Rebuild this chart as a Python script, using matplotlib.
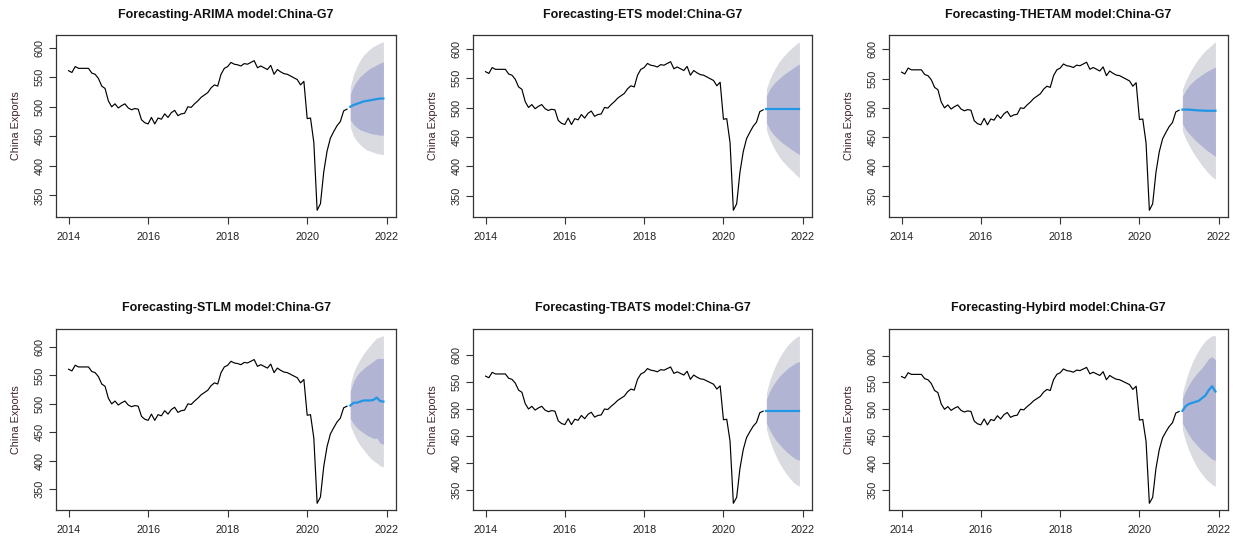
import numpy as np
import matplotlib
matplotlib.use("Agg")
import matplotlib.pyplot as plt

plt.rcParams['font.family'] = ['Liberation Sans', 'DejaVu Sans']

# Monthly China exports to G7, Jan 2014 - Jan 2021
exports = [
    561, 558, 568, 565, 565, 565, 565, 557, 555, 548, 535, 531,   # 2014
    510, 500, 505, 498, 502, 505, 498, 495, 497, 496, 478, 473,   # 2015
    471, 482, 471, 481, 479, 488, 482, 490, 494, 485, 488, 489,   # 2016
    500, 499, 505, 510, 516, 520, 524, 532, 537, 535, 555, 565,   # 2017
    568, 575, 572, 571, 569, 573, 572, 575, 578, 566, 569, 566,   # 2018
    563, 570, 555, 563, 559, 556, 555, 552, 549, 546, 537, 543,   # 2019
    480, 481, 440, 325, 336, 390, 425, 447, 458, 468, 475, 493,   # 2020
    496,                                                          # 2021
]
start_year = 2014
horizon_months = 11  # Feb - Dec 2021

models = ["ARIMA", "ETS", "THETAM", "STLM", "TBATS", "Hybird"]

# point forecasts
mean_arima = [500, 503, 505, 507, 509, 510, 511, 512, 513, 514, 514]
mean_ets = [497, 497, 497, 497, 497, 497, 497, 497, 497, 497, 497]
mean_thetam = [497, 497, 497, 496.5, 496, 495.5, 495.5, 495, 495, 495, 495]
mean_stlm = [497, 502, 502, 504, 506, 506, 506, 507, 511, 505, 504]
mean_tbats = [497, 497, 497, 497, 497, 497, 497, 497, 497, 497, 497]
mean_hybrid = [497, 506, 510, 512, 514, 516, 521, 526, 536, 543, 533]

# 80% prediction intervals
lo80_arima = [478, 470, 465, 461, 459, 457, 455, 454, 453, 452, 452]
hi80_arima = [522, 535, 544, 551, 556, 561, 565, 568, 571, 574, 576]
lo80_ets = [474, 463, 455, 449, 444, 439, 435, 431, 427, 423, 420]
hi80_ets = [520, 531, 539, 545, 550, 555, 559, 563, 567, 571, 574]
lo80_thetam = [473, 463, 456, 450, 444, 439, 434, 429, 425, 421, 417]
hi80_thetam = [520, 530, 538, 544, 549, 553, 557, 561, 564, 567, 570]
lo80_stlm = [474, 465, 458, 453, 449, 445, 442, 439, 440, 431, 429]
hi80_stlm = [522, 540, 550, 557, 562, 567, 571, 575, 580, 580, 580]
lo80_tbats = [474, 461, 450, 441, 434, 427, 421, 416, 411, 407, 405]
hi80_tbats = [518, 533, 544, 553, 561, 567, 573, 578, 582, 586, 588]
lo80_hybrid = [474, 463, 452, 443, 436, 429, 423, 418, 412, 407, 405]
hi80_hybrid = [520, 535, 546, 556, 564, 571, 578, 586, 595, 598, 592]

# 95% prediction intervals
lo95_arima = [466, 450, 442, 436, 431, 427, 425, 423, 421, 420, 419]
hi95_arima = [534, 555, 568, 579, 587, 593, 598, 602, 605, 608, 610]
lo95_ets = [462, 446, 434, 424, 415, 408, 402, 396, 391, 385, 380]
hi95_ets = [532, 548, 560, 570, 579, 586, 592, 598, 603, 608, 612]
lo95_thetam = [461, 447, 436, 426, 417, 409, 401, 394, 388, 382, 378]
hi95_thetam = [532, 546, 558, 568, 577, 585, 592, 598, 603, 608, 613]
lo95_stlm = [462, 448, 436, 427, 419, 412, 405, 400, 396, 391, 389]
hi95_stlm = [533, 556, 568, 579, 588, 596, 603, 610, 616, 618, 620]
lo95_tbats = [462, 442, 425, 411, 399, 389, 380, 372, 365, 360, 357]
hi95_tbats = [530, 553, 570, 584, 596, 606, 615, 622, 628, 633, 636]
lo95_hybrid = [462, 440, 423, 409, 397, 387, 379, 371, 365, 360, 357]
hi95_hybrid = [530, 553, 572, 587, 600, 611, 620, 628, 633, 637, 637]

forecasts = {
    "ARIMA": (mean_arima, lo80_arima, hi80_arima, lo95_arima, hi95_arima),
    "ETS": (mean_ets, lo80_ets, hi80_ets, lo95_ets, hi95_ets),
    "THETAM": (mean_thetam, lo80_thetam, hi80_thetam, lo95_thetam, hi95_thetam),
    "STLM": (mean_stlm, lo80_stlm, hi80_stlm, lo95_stlm, hi95_stlm),
    "TBATS": (mean_tbats, lo80_tbats, hi80_tbats, lo95_tbats, hi95_tbats),
    "Hybird": (mean_hybrid, lo80_hybrid, hi80_hybrid, lo95_hybrid, hi95_hybrid),
}

hist_t = start_year + np.arange(len(exports)) / 12.0
fc_t = hist_t[-1] + np.arange(1, horizon_months + 1) / 12.0

W, H = 1243, 544
fig = plt.figure(figsize=(W / 100, H / 100), dpi=100)

# axes boxes in pixels: (left, top, right, bottom)
boxes = [
    (56, 35, 396, 217), (473, 35, 812, 217), (889, 35, 1228, 217),
    (56, 329, 396, 510), (473, 329, 812, 510), (889, 329, 1228, 510),
]

band95 = "#dadae1"
band80 = "#b1b5d3"
mean_col = "#2196e6"
frame_col = "#333333"
text_col = "#222222"
ylab_col = "#3d2326"

for name, (l, t, r, b) in zip(models, boxes):
    ax = fig.add_axes([l / W, 1 - b / H, (r - l) / W, (b - t) / H])
    mean, lo80, hi80, lo95, hi95 = forecasts[name]
    ax.fill_between(fc_t, lo95, hi95, color=band95, lw=0)
    ax.fill_between(fc_t, lo80, hi80, color=band80, lw=0)
    ax.plot(hist_t, exports, color="black", lw=0.85)
    ax.plot(fc_t, mean, color=mean_col, lw=1.6)

    xmin, xmax = hist_t[0], fc_t[-1]
    ymin = min(min(exports), min(lo95))
    ymax = max(max(exports), max(hi95))
    dx, dy = 0.04 * (xmax - xmin), 0.04 * (ymax - ymin)
    ax.set_xlim(xmin - dx, xmax + dx)
    ax.set_ylim(ymin - dy, ymax + dy)

    ax.set_xticks([2014, 2016, 2018, 2020, 2022])
    yt = [v for v in range(350, 700, 50) if ymin - dy <= v <= ymax + dy]
    ax.set_yticks(yt)
    ax.tick_params(axis="both", direction="out", length=5, width=0.8,
                   colors=frame_col, labelcolor=text_col, labelsize=7.8)
    ax.tick_params(axis="x", pad=6)
    ax.tick_params(axis="y", pad=3)
    for lab in ax.get_yticklabels():
        lab.set_rotation(90)
        lab.set_va("center")
    for s in ax.spines.values():
        s.set_color(frame_col)
        s.set_linewidth(0.9)

    ax.set_title(f"Forecasting-{name} model:China-G7", fontsize=9,
                 fontweight="bold", color="#111111", pad=12 if t < 100 else 13)
    ax.set_ylabel("China Exports", fontsize=7.8, color=ylab_col, labelpad=10)

fig.savefig("out.png", dpi=100, facecolor="white")
